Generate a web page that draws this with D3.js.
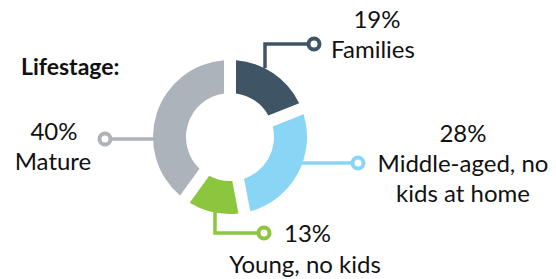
<!DOCTYPE html>
<html lang="en">

<head>
  <meta charset="UTF-8">
  <title>Lifestage</title>
  <style>
    html,
    body {
      margin: 0;
      background: #fff;
    }

    text {
      font-family: Lato, "Open Sans", sans-serif;
      fill: #111;
    }
  </style>
</head>

<body>
  <div id="main"></div>

  <script src="https://cdnjs.cloudflare.com/ajax/libs/d3/7.8.5/d3.min.js"></script>

  <script>
    // 数据
    const categories = ['Families', 'Middle-aged, no kids at home', 'Young, no kids', 'Mature']
    const values = [19, 28, 13, 40]
    const colors = ['#3f5565', '#88d5f6', '#8cc63f', '#adb3bb']

    const width = 556
    const height = 279
    const cx = 230
    const cy = 137

    const svg = d3.select('#main').append('svg')
      .attr('width', width)
      .attr('height', height)

    const pie = d3.pie().sort(null).value(d => d.value)
    const arcs = pie(categories.map((c, i) => ({ name: c, value: values[i], color: colors[i] })))

    const arc = d3.arc()
      .innerRadius(44)
      .outerRadius(77)
      .padRadius(100)
      .padAngle(0.12)

    const g = svg.append('g').attr('transform', `translate(${cx},${cy})`)
    g.selectAll('path')
      .data(arcs)
      .join('path')
      .attr('d', arc)
      .attr('fill', d => d.data.color)

    // 引线 (relative to centre): points then end circle
    const leaders = [
      { pts: [[35, -69], [35, -93], [78, -93]], lines: [[377, 28, 'middle'], [373, 58, 'middle']] },
      { pts: [[72, 26], [122, 26]], lines: [[463, 142, 'middle'], [463, 172, 'middle'], [463, 202, 'middle']] },
      { pts: [[-15, 75], [-15, 96], [28, 96]], lines: [[284, 242, 'start'], [305, 273, 'middle']] },
      { pts: [[-76, 2], [-119, 2]], lines: [[54, 140, 'middle'], [53, 170, 'middle']] }
    ]
    const labelText = [
      ['19%', 'Families'],
      ['28%', 'Middle-aged, no', 'kids at home'],
      ['13%', 'Young, no kids'],
      ['40%', 'Mature']
    ]

    arcs.forEach((a, i) => {
      const pts = leaders[i].pts
      g.append('path')
        .attr('d', d3.line()(pts))
        .attr('fill', 'none')
        .attr('stroke', a.data.color)
        .attr('stroke-width', 3.5)
      const end = pts[pts.length - 1]
      const dx = end[0] - pts[pts.length - 2][0]
      const dy = end[1] - pts[pts.length - 2][1]
      const len = Math.hypot(dx, dy)
      g.append('circle')
        .attr('cx', end[0] + dx / len * 6)
        .attr('cy', end[1] + dy / len * 6)
        .attr('r', 5.5)
        .attr('fill', '#fff')
        .attr('stroke', a.data.color)
        .attr('stroke-width', 4)

      leaders[i].lines.forEach((l, j) => {
        svg.append('text')
          .attr('x', l[0])
          .attr('y', l[1])
          .attr('text-anchor', l[2])
          .style('font-size', '24px')
          .text(labelText[i][j])
      })
    })

    svg.append('text')
      .attr('x', 21)
      .attr('y', 75)
      .style('font-size', '23px')
      .style('font-weight', 'bold')
      .text('Lifestage:')
  </script>
</body>

</html>
